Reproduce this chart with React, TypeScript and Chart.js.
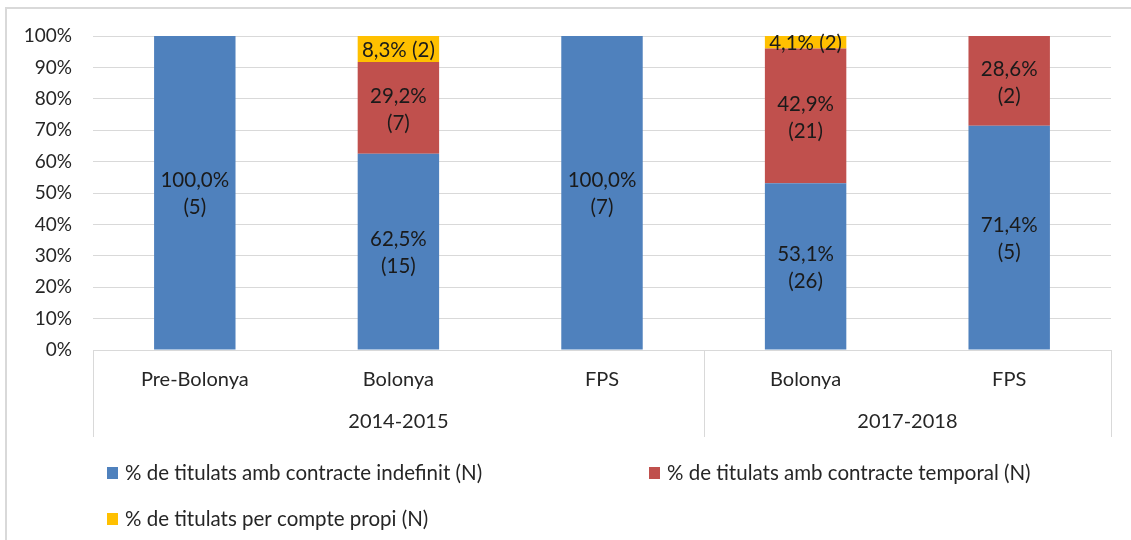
import React, { useEffect, useRef } from "react";
import { Chart, registerables } from "chart.js";

Chart.register(...registerables);

const categories = ["Pre-Bolonya", "Bolonya", "FPS", "Bolonya", "FPS"];
const groups = [
  { label: "2014-2015", from: 0, to: 2 },
  { label: "2017-2018", from: 3, to: 4 },
];
const seriesLabels = [
  "% de titulats amb contracte indefinit (N)",
  "% de titulats amb contracte temporal (N)",
  "% de titulats per compte propi (N)",
];
const indefinitPct = [100.0, 62.5, 100.0, 53.1, 71.4];
const indefinitN = [5, 15, 7, 26, 5];
const temporalPct = [0, 29.2, 0, 42.9, 28.6];
const temporalN = [0, 7, 0, 21, 2];
const propiPct = [0, 8.3, 0, 4.1, 0];
const propiN = [0, 2, 0, 2, 0];
const yTicks = [0, 10, 20, 30, 40, 50, 60, 70, 80, 90, 100];

const COLORS = ["#4F81BD", "#C0504D", "#FFC000"];
const FONT = "Lato, 'Open Sans', sans-serif";

const fmt = (v: number) => v.toFixed(1).replace(".", ",") + "%";

export default function App() {
  const ref = useRef<HTMLCanvasElement | null>(null);

  useEffect(() => {
    document.body.style.margin = "0";
    const canvas = ref.current!;
    const counts = [indefinitN, temporalN, propiN];

    const decor = {
      id: "decor",
      beforeDraw(chart: any) {
        const ctx = chart.ctx;
        ctx.save();
        ctx.fillStyle = "#ffffff";
        ctx.fillRect(0, 0, chart.width, chart.height);
        ctx.strokeStyle = "#D9D9D9";
        ctx.lineWidth = 2;
        ctx.strokeRect(6, 8, chart.width + 20, chart.height + 20);
        ctx.restore();
      },
      afterDatasetsDraw(chart: any) {
        const ctx = chart.ctx;
        const area = chart.chartArea;
        const xs = chart.scales.x;
        ctx.save();
        // data labels
        ctx.fillStyle = "#1a1a1a";
        ctx.textAlign = "center";
        ctx.textBaseline = "middle";
        ctx.font = `20.5px ${FONT}`;
        chart.data.datasets.forEach((ds: any, di: number) => {
          const meta = chart.getDatasetMeta(di);
          meta.data.forEach((bar: any, i: number) => {
            const v = ds.data[i];
            if (!v) return;
            const yc = (bar.y + bar.base) / 2;
            const t1 = fmt(v);
            const t2 = `(${counts[di][i]})`;
            if (di === 2) {
              ctx.fillText(`${t1} ${t2}`, bar.x, yc + 1);
            } else {
              ctx.fillText(t1, bar.x, yc - 12);
              ctx.fillText(t2, bar.x, yc + 15);
            }
          });
        });
        // category axis box
        ctx.strokeStyle = "#D9D9D9";
        ctx.lineWidth = 1;
        const bottom = area.bottom;
        ctx.beginPath();
        ctx.moveTo(area.left, bottom + 0.5);
        ctx.lineTo(area.right, bottom + 0.5);
        const step = (area.right - area.left) / categories.length;
        const seps = [area.left, area.left + step * 3, area.right];
        seps.forEach((x) => {
          const xx = Math.round(x) + 0.5;
          ctx.moveTo(xx, bottom);
          ctx.lineTo(xx, bottom + 87);
        });
        ctx.stroke();
        ctx.fillStyle = "#262626";
        ctx.font = `20px ${FONT}`;
        categories.forEach((c, i) => {
          ctx.fillText(c, xs.getPixelForValue(i), bottom + 30);
        });
        groups.forEach((g) => {
          const x = (xs.getPixelForValue(g.from) + xs.getPixelForValue(g.to)) / 2;
          ctx.fillText(g.label, x, bottom + 72);
        });
        // legend
        const legendPos = [
          { x: 107, y: 473 },
          { x: 649, y: 473 },
          { x: 107, y: 519 },
        ];
        ctx.textAlign = "left";
        ctx.font = `20.5px ${FONT}`;
        seriesLabels.forEach((l, i) => {
          const p = legendPos[i];
          ctx.fillStyle = COLORS[i];
          ctx.fillRect(p.x, p.y - 6, 11, 12);
          ctx.fillStyle = "#262626";
          ctx.fillText(l, p.x + 18, p.y);
        });
        ctx.restore();
      },
    };

    const chart = new Chart(canvas, {
      type: "bar",
      data: {
        labels: categories,
        datasets: [
          { label: seriesLabels[0], data: indefinitPct, backgroundColor: COLORS[0] },
          { label: seriesLabels[1], data: temporalPct, backgroundColor: COLORS[1] },
          { label: seriesLabels[2], data: propiPct, backgroundColor: COLORS[2] },
        ],
      },
      options: {
        animation: false,
        responsive: false,
        layout: { padding: { left: 0, top: 36, right: 20, bottom: 190 } },
        plugins: { legend: { display: false }, tooltip: { enabled: false } },
        datasets: { bar: { barPercentage: 0.8, categoryPercentage: 0.5 } },
        scales: {
          x: { stacked: true, display: false },
          y: {
            stacked: true,
            min: 0,
            max: 100,
            afterBuildTicks: (s: any) => {
              s.ticks = yTicks.map((v) => ({ value: v }));
            },
            afterFit: (s: any) => {
              s.width = 93;
            },
            border: { display: false },
            grid: { color: "#D9D9D9", drawTicks: false, lineWidth: 1 },
            ticks: {
              padding: 21,
              color: "#262626",
              font: { family: FONT, size: 19 },
              callback: (v: any) => `${v}%`,
            },
          },
        },
      },
      plugins: [decor],
    });
    return () => chart.destroy();
  }, []);

  return (
    <div style={{ position: "absolute", left: 0, top: 0, width: 1131, height: 540 }}>
      <canvas ref={ref} width={1131} height={540} style={{ width: 1131, height: 540 }} />
    </div>
  );
}
